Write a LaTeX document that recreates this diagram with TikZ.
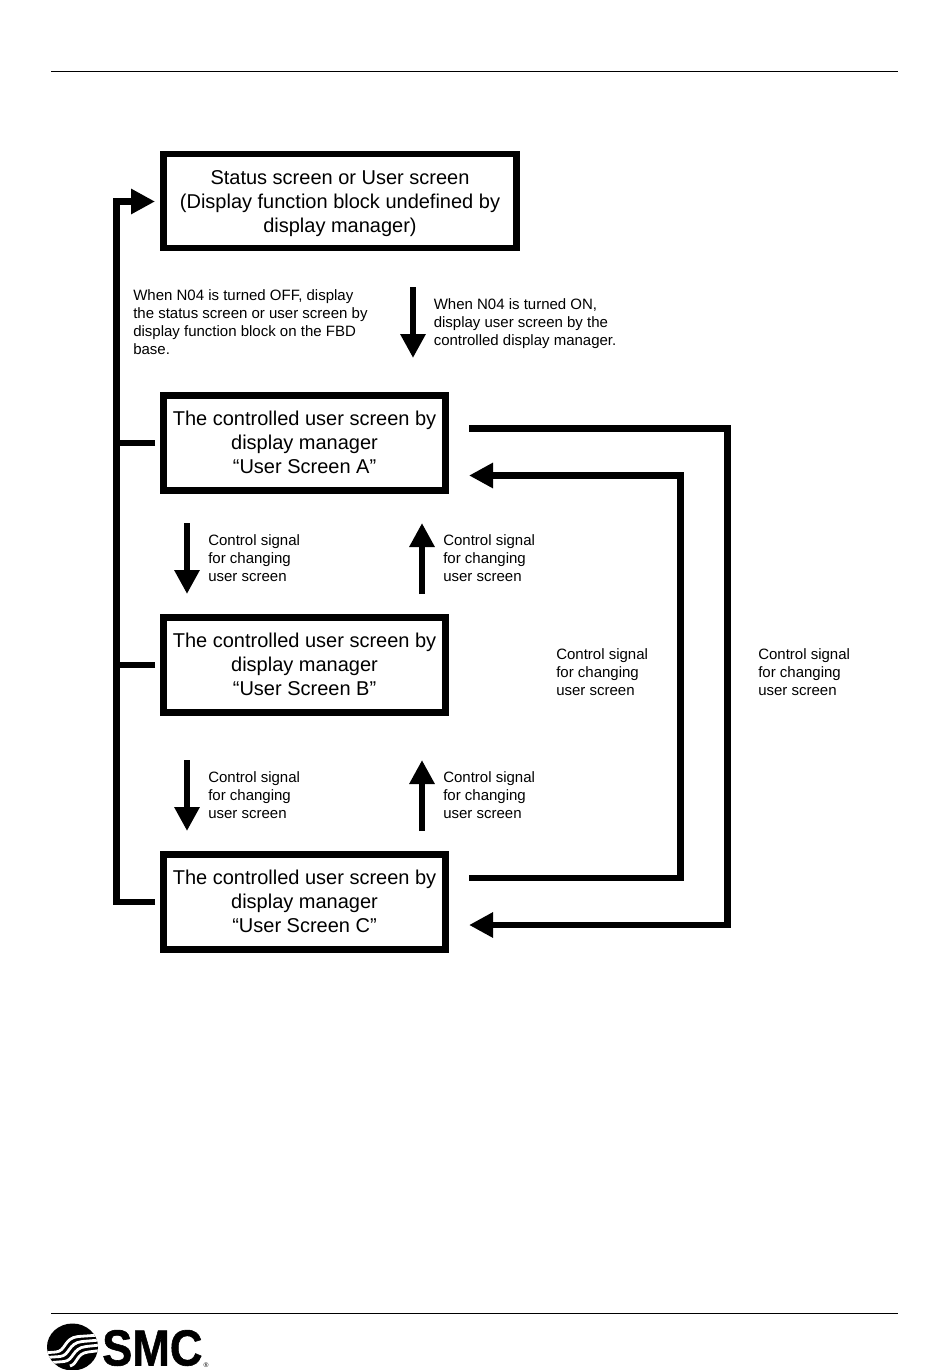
\documentclass[tikz,border=0pt]{standalone}
\usepackage{fontspec}
\setmainfont{Liberation Sans}
\newfontfamily\logofont[FakeBold=1.2]{Liberation Sans Bold}
\usetikzlibrary{arrows.meta,positioning}

\tikzset{
    screen/.style={draw,line width=5pt,align=center,font=\fontsize{15}{18}\selectfont,
        inner sep=0pt,text height=46pt,minimum width=211.75pt,minimum height=71.5pt},
    note/.style={anchor=west,align=left,inner sep=0pt,font=\fontsize{11.25}{13.5}\selectfont},
    wire/.style={line width=5pt},
    flow/.style={wire,-{Triangle[length=18pt,width=18pt]}},
    rule/.style={line width=0.75pt},
    band/.style={white,line width=2.1pt},
}

\begin{document}
\begin{tikzpicture}[x=0.75pt,y=-0.75pt,node distance=166.5pt,on grid]
    \useasboundingbox (0,0) rectangle (950,1370);

    \node[screen,text height=51pt,minimum width=265pt,minimum height=70.4pt] (top) at (340,201)
        {Status screen or User screen\\(Display function block undefined by\\display manager)};
    \node[screen] (A) [below left=181.5pt and 26.6pt of top]
        {The controlled user screen by\\display manager\\“User Screen A”};
    \node[screen] (B) [below=of A]
        {The controlled user screen by\\display manager\\“User Screen B”};
    \node[screen] (C) [below=177.75pt of B]
        {The controlled user screen by\\display manager\\“User Screen C”};

    % free ends of the connectors
    \coordinate (busT) at (116.7,201.5);
    \coordinate (busC) at (116.7,902);
    \coordinate (outer1) at (727.5,428.5);
    \coordinate (outer2) at (727.5,925);
    \coordinate (inner1) at (680.5,475.5);
    \coordinate (inner2) at (680.5,878);
    \coordinate (d0a) at (413,287);
    \coordinate (d0b) at (413,358);
    \coordinate (d1a) at (187,523);
    \coordinate (d1b) at (187,594);
    \coordinate (u1a) at (422,594);
    \coordinate (u1b) at (422,523);
    \coordinate (d2a) at (187,760);
    \coordinate (d2b) at (187,831);
    \coordinate (u2a) at (422,831);
    \coordinate (u2b) at (422,760);

    \draw[flow,shorten <=3.75pt,shorten >=3.75pt] (C.west) -- (busC) -- (busT) -- (top.west |- busT);
    \draw[wire,shorten <=3.75pt] (A.west) -- (A.west -| busT);
    \draw[wire,shorten <=3.75pt] (B.west) -- (B.west -| busT);

    \draw[flow,shorten <=15pt,shorten >=15pt] (A.east |- outer1) -- (outer1) -- (outer2) -- (C.east |- outer2);
    \draw[flow,shorten <=15pt,shorten >=15pt] (C.east |- inner2) -- (inner2) -- (inner1) -- (A.east |- inner1);

    \draw[flow] (d0a) -- (d0b);
    \draw[flow] (d1a) -- (d1b);
    \draw[flow] (u1a) -- (u1b);
    \draw[flow] (d2a) -- (d2b);
    \draw[flow] (u2a) -- (u2b);

    \node[note] (offnote) at (133,322) {When N04 is turned OFF, display\\the status screen or user screen by\\display function block on the FBD\\base.};
    \node[note] (onnote) at (433.5,324) {When N04 is turned ON,\\display user screen by the\\controlled display manager.};
    \node[note] (sig1) at (208,558.5) {Control signal\\for changing\\user screen};
    \node[note] (sig2) at (443,558.5) {Control signal\\for changing\\user screen};
    \node[note] (sig3) at (208,795) {Control signal\\for changing\\user screen};
    \node[note] (sig4) at (443,795) {Control signal\\for changing\\user screen};
    \node[note] (sig5) at (556,672) {Control signal\\for changing\\user screen};
    \node[note] (sig6) at (758,672) {Control signal\\for changing\\user screen};

    % page rules
    \draw[rule] (51,71.5) -- (898,71.5);
    \draw[rule] (51,1313.5) -- (898,1313.5);

    % logo
    \fill (72.5,1347) ellipse [x radius=25.5,y radius=23.5];
    \begin{scope}
        \clip (72.5,1347) ellipse [x radius=25.5,y radius=23.5];
        \draw[band] (46,1352.7) -- (56,1352) .. controls (66,1351) and (64,1338) .. (78,1336.5) -- (100,1335);
        \draw[band] (46,1357.5) -- (60,1356.5) .. controls (70,1355.5) and (68,1343) .. (82,1341.5) -- (100,1340);
        \draw[band] (46,1363) -- (64,1361.5) .. controls (74,1360.5) and (72,1348) .. (86,1346.5) -- (100,1345);
        \draw[band] (70,1366) .. controls (78,1364) and (76,1353.5) .. (88,1352) -- (100,1350.5);
    \end{scope}
    \node[inner sep=0pt,anchor=west,xscale=0.89,font=\fontsize{38}{38}\logofont] (smc) at (102,1348) {SMC};
    \node[inner sep=0pt,font=\fontsize{5}{5}\selectfont] (reg) at (206,1365) {®};
\end{tikzpicture}
\end{document}
